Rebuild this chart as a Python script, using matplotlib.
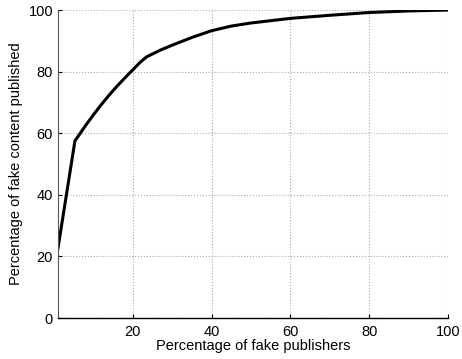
import matplotlib
matplotlib.use("Agg")
import matplotlib.pyplot as plt

# ------------------ data ------------------
publishers = [1, 5.3, 8, 10, 12, 14, 16, 18, 20, 22, 23.5, 27, 30, 35, 40, 45, 50,
              60, 70, 80, 90, 100]
content = [22.7, 57.5, 62.5, 66, 69.3, 72.4, 75.3, 78, 80.6, 83.2, 84.8, 87.0, 88.6,
           91.1, 93.3, 94.8, 95.8, 97.3, 98.3, 99.2, 99.7, 100]
xticks = [20, 40, 60, 80, 100]
yticks = [0, 20, 40, 60, 80, 100]

plt.rcParams['font.family'] = ['Liberation Sans', 'DejaVu Sans']

fig = plt.figure(figsize=(4.62, 3.59), dpi=100)
ax = fig.add_axes([0.1255, 0.114, 0.844, 0.858])

ax.plot(publishers, content, color='black', linewidth=2.2, solid_joinstyle='round')

ax.set_xlim(1, 100)
ax.set_ylim(0, 100)
ax.set_xticks(xticks)
ax.set_yticks(yticks)
ax.tick_params(direction='in', length=3, labelsize=10.5, colors='black', width=0.8)
ax.tick_params(axis='x', pad=5)
ax.grid(True, linestyle=':', color='#aaaaaa', linewidth=0.8)

for side in ['top', 'right']:
    ax.spines[side].set_visible(False)
ax.spines['left'].set_color('#555555')
ax.spines['bottom'].set_linewidth(1.0)

ax.set_xlabel("Percentage of fake publishers", fontsize=10.5, labelpad=0)
ax.set_ylabel("Percentage of fake content published", fontsize=10.5, labelpad=4)

fig.savefig("out.png", dpi=100)
